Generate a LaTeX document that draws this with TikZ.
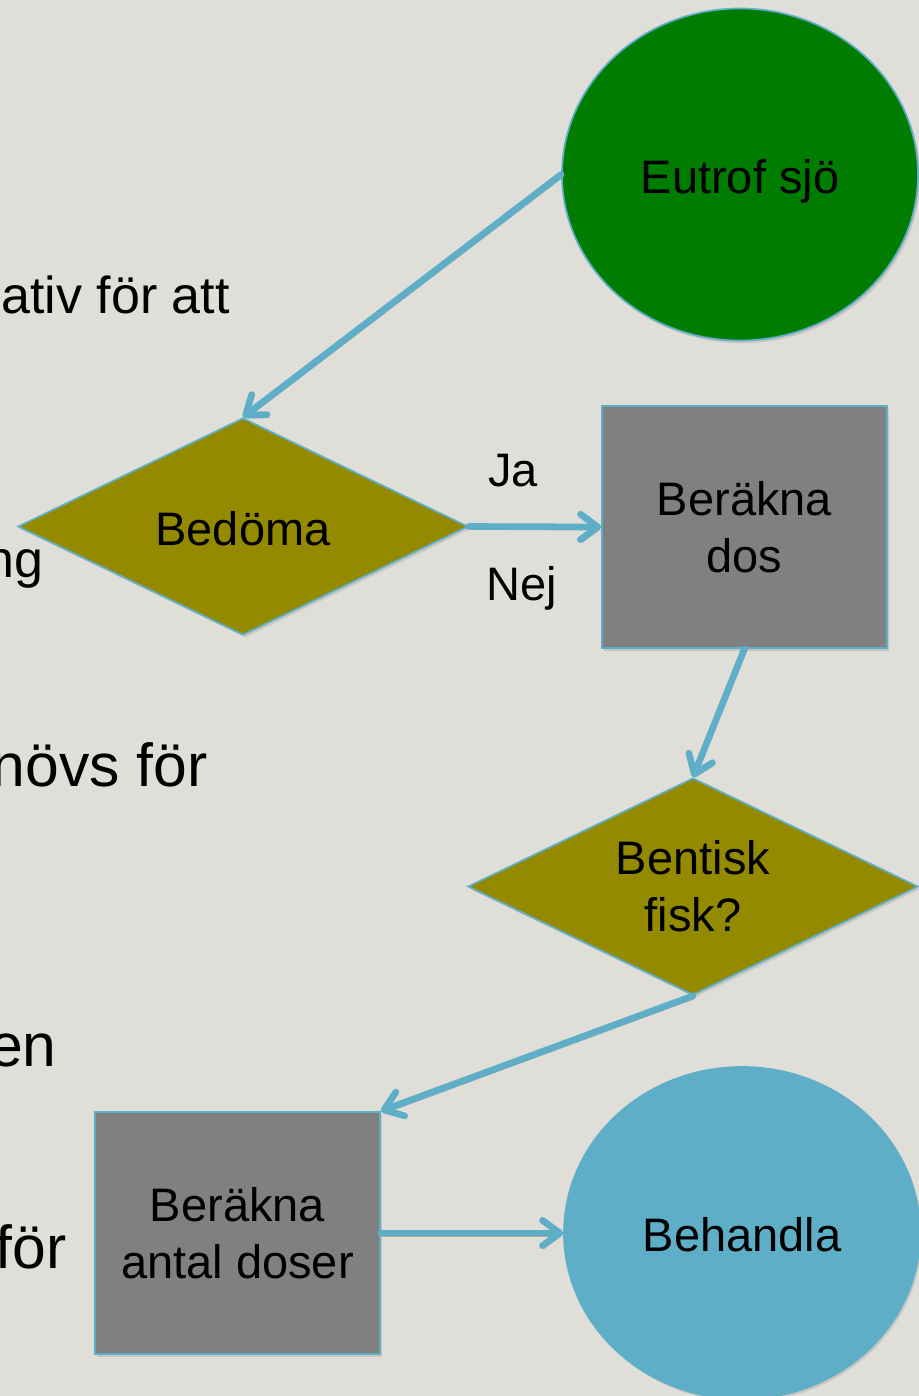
\documentclass[tikz,border=0pt]{standalone}
\usepackage{fontspec}
\setmainfont{Liberation Sans}
\usetikzlibrary{shapes.geometric,arrows.meta,shadows}
\definecolor{bgc}{HTML}{E0DED8}
\definecolor{lineblue}{HTML}{5EAEC7}
\definecolor{greenfill}{HTML}{007C00}
\definecolor{olivefill}{HTML}{948A00}
\definecolor{grayfill}{HTML}{808080}
\definecolor{bluefill}{HTML}{5EAEC7}
\definecolor{shadowgray}{HTML}{A8A6A0}
\begin{document}
\begin{tikzpicture}[x=0.75pt,y=-0.75pt,
  shapebase/.style={draw=lineblue, line width=1.3pt, inner sep=0pt, align=center,
    font=\fontsize{35.25pt}{42.75pt}\selectfont,
    drop shadow={shadow xshift=1.5pt, shadow yshift=-2pt, opacity=0.25}},
  oneline/.style={text height=35.25pt, text depth=7.4pt},
  oval/.style={shapebase, oneline, ellipse, minimum width=267pt, minimum height=249pt},
  rhomb/.style={shapebase, diamond, aspect=2.07, fill=olivefill, minimum width=337.5pt, minimum height=162.75pt},
  box/.style={shapebase, rectangle, fill=grayfill, minimum width=213.75pt, minimum height=181.5pt},
  conn/.style={draw=lineblue, line width=5pt, line cap=round,
    -{Straight Barb[length=13pt,width=19pt,round]},
    preaction={draw=shadowgray, transform canvas={shift={(1.2pt,-2.2pt)}}}},
  sidetext/.style={anchor=base east, inner sep=0pt, font=\fontsize{39pt}{46pt}\selectfont},
  bigside/.style={sidetext, font=\fontsize{45.5pt}{54pt}\selectfont},
  edgelabel/.style={anchor=base west, inner sep=0pt, font=\fontsize{35.25pt}{42pt}\selectfont}]
\useasboundingbox (0,0) rectangle (919,1396);
\fill[bgc] (0,0) rectangle (919,1396);
\clip (0,0) rectangle (919,1396);
% partial slide text
\node[sidetext] (t1) at (230,313) {ativ för att};
\node[sidetext] (t2) at (44,577) {ng};
\node[bigside] (t3) at (208,786) {növs för};
\node[bigside] (t4) at (57,1066) {en};
\node[bigside] (t5) at (67,1268) {för};
% flowchart
\node[oval, fill=greenfill] (eutrof) at (740,174.5) {Eutrof sjö};
\node[rhomb, oneline] (bedoma) at (243,526.5) {Bedöma};
\node[box] (dos) at (744.5,527) {Beräkna\\dos};
\node[rhomb] (bentisk) at (693,886.5) {Bentisk\\fisk?};
\node[box] (antal) at (237.5,1233) {Beräkna\\antal doser};
\node[oval, fill=bluefill] (behandla) at (742,1233) {Behandla};
\node[edgelabel] (ja) at (488,486) {Ja};
\node[edgelabel] (nej) at (486,600) {Nej};
\draw[conn] (eutrof.west) -- (bedoma.north);
\draw[conn] (bedoma.east) -- (dos.west);
\draw[conn] (dos.south) -- (bentisk.north);
\draw[conn] (bentisk.south) -- (antal.north east);
\draw[conn] (antal.east) -- (behandla.west);
\end{tikzpicture}
\end{document}
